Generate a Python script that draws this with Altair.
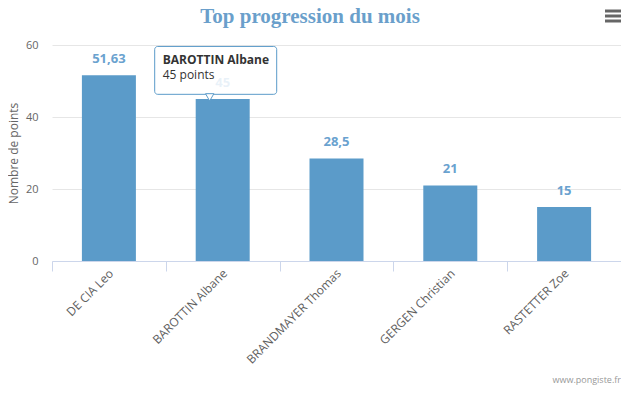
import altair as alt
import pandas as pd

players = ["DE CIA Leo", "BAROTTIN Albane", "BRANDMAYER Thomas", "GERGEN Christian", "RASTETTER Zoe"]
points = [51.63, 45, 28.5, 21, 15]
point_labels = ["51,63", "45", "28,5", "21", "15"]

chart_title = "Top progression du mois"
tooltip_player = "BAROTTIN Albane"
tooltip_lines = ["BAROTTIN Albane", "45 points"]
credits_text = "www.pongiste.fr"

BAR = "#5b9bc9"
LABEL = "#6aa2cf"
TITLE = "#6a9fcb"
FONT = "Open Sans"

df = pd.DataFrame({"player": players, "points": points, "label": point_labels})

x_enc = alt.X("player:N", sort=players, title=None,
              scale=alt.Scale(paddingInner=0, paddingOuter=0),
              axis=alt.Axis(labelAngle=-45, labelAlign="right", labelBaseline="middle",
                            labelFont=FONT, labelFontSize=12, labelColor="#606060",
                            labelPadding=0, labelOffset=2, tickBand="extent", tickSize=10,
                            tickColor="#ccd6eb", domainColor="#ccd6eb", grid=False,
                            labelOverlap=False))
y_enc = alt.Y("points:Q", title="Nombre de points",
              scale=alt.Scale(domain=[0, 60], nice=False),
              axis=alt.Axis(values=[0, 20, 40, 60], domain=False, ticks=False,
                            labelFont=FONT, labelFontSize=11, labelColor="#666666",
                            labelPadding=14, gridColor="#e6e6e6",
                            titleFont=FONT, titleFontSize=12, titleColor="#666666",
                            titleFontWeight="normal", titleX=-39, titleY=108,
                            titleAlign="center", titleBaseline="middle", titleAngle=270))

base = alt.Chart(df)
bars = base.mark_bar(width=54, color=BAR).encode(x=x_enc, y=y_enc)
labels = base.mark_text(font=FONT, fontSize=13, fontWeight="bold", color=LABEL,
                        baseline="middle", dy=-16).encode(
    x=alt.X("player:N", sort=players), y="points:Q", text="label:N")

tip_df = pd.DataFrame({"player": [tooltip_player], "top": [59.6], "bottom": [46.3]})
tip_base = alt.Chart(tip_df)
tip_box = tip_base.mark_bar(width=122, xOffset=-7, fill="white", fillOpacity=0.85,
                            stroke=BAR, strokeWidth=1, cornerRadius=3).encode(
    x=alt.X("player:N", sort=players), y="top:Q", y2="bottom:Q")
tip_arrow = tip_base.mark_point(shape="triangle-down", size=70, filled=True, fill="white",
                                stroke=BAR, strokeWidth=1, opacity=1, xOffset=-13, yOffset=3).encode(
    x=alt.X("player:N", sort=players), y="bottom:Q")
tip_l1 = tip_base.mark_text(font=FONT, fontSize=12, fontWeight="bold", color="#333333",
                            align="left", baseline="middle", dx=-60, dy=14).encode(
    x=alt.X("player:N", sort=players), y="top:Q", text=alt.value(tooltip_lines[0]))
tip_l2 = tip_base.mark_text(font=FONT, fontSize=12, color="#333333",
                            align="left", baseline="middle", dx=-60, dy=29).encode(
    x=alt.X("player:N", sort=players), y="top:Q", text=alt.value(tooltip_lines[1]))

one = pd.DataFrame({"a": [0]})
title = alt.Chart(one).mark_text(font="Liberation Serif", fontSize=21, fontWeight="bold",
                                 color=TITLE, align="center", baseline="alphabetic").encode(
    x=alt.value(258), y=alt.value(-22.5), text=alt.value(chart_title))

credits = alt.Chart(one).mark_text(
    font=FONT, fontSize=9, color="#999999", align="right", baseline="middle").encode(
    x=alt.value(569), y=alt.value(335), text=alt.value(credits_text))

menu = [alt.Chart(one).mark_rule(color="#666666", strokeWidth=3).encode(
    x=alt.value(553), x2=alt.value(569), y=alt.value(yy)) for yy in (-34, -29, -24)]

chart = alt.layer(bars, labels, tip_box, tip_arrow, tip_l1, tip_l2, title, credits, *menu).properties(
    width=569, height=216,
    padding={"left": 44, "top": 37, "right": 0, "bottom": 125},
    autosize=alt.AutoSizeParams(type="none"),
).configure_view(stroke=None)

chart.save("out.html", embed_options={"renderer": "svg", "actions": False})
